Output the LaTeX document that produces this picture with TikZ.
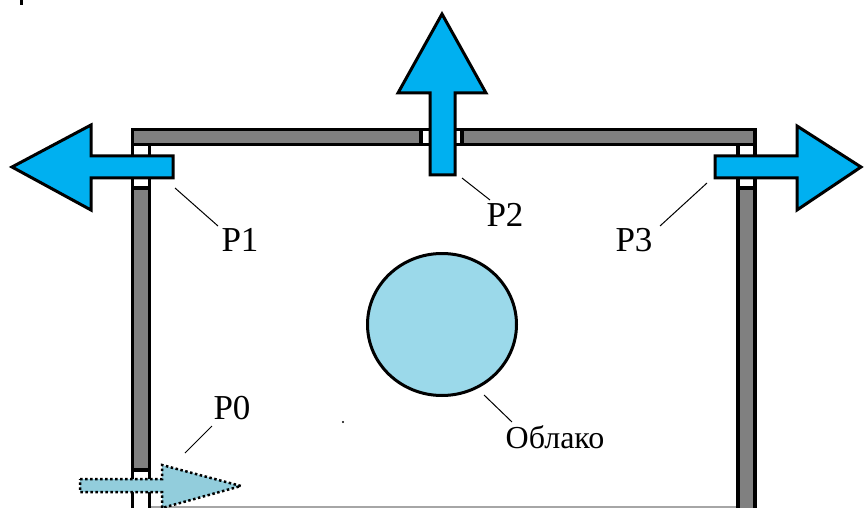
\documentclass[tikz,border=0pt]{standalone}
\usepackage{fontspec}
\setmainfont{Liberation Serif}
\usetikzlibrary{shapes.geometric}
\definecolor{arrowblue}{RGB}{0,176,240}
\definecolor{cloudblue}{RGB}{155,217,234}
\definecolor{pzeroblue}{RGB}{146,205,220}
\definecolor{wallgrey}{RGB}{128,128,128}
\begin{document}
\begin{tikzpicture}[x=1pt,y=-1pt]
\tikzset{
  wallseg/.style={draw=black, line width=3.5pt, fill=wallgrey},
  pane/.style={draw=black, line width=3.5pt, fill=white},
  blockarrow/.style={draw=black, line width=3pt, fill=arrowblue, line join=miter},
  dotarrow/.style={draw=black, line width=2.5pt, fill=pzeroblue, dash pattern=on 2.5pt off 2.5pt, line join=miter},
  lbl/.style={font=\fontsize{35}{40}\selectfont, inner sep=0pt},
  cloudlbl/.style={font=\fontsize{32}{36}\selectfont, inner sep=0pt},
  leader/.style={draw=black, line width=1pt}
}
\useasboundingbox (0,0) rectangle (865,508);
\clip (0,0) rectangle (865,508);
% floor line
\draw[black!35, line width=1.2pt] (150,507) -- (737,507);
% left wall
\draw[pane] (132.5,144.5) rectangle (149.5,188);
\draw[wallseg] (132.5,188) rectangle (149.5,470);
\draw[pane] (132.5,470) rectangle (149.5,515);
% right wall
\draw[pane] (738,144.5) rectangle (755,188);
\draw[wallseg] (738,188) rectangle (755,515);
% top wall
\draw[wallseg] (132.5,129.5) rectangle (421,144.5);
\draw[pane] (421,129.5) rectangle (462,144.5);
\draw[wallseg] (462,129.5) rectangle (755,144.5);
% block arrows
\draw[blockarrow] (12,167) -- (91,125) -- (91,156) -- (173,156) -- (173,178) -- (91,178) -- (91,210) -- cycle;
\draw[blockarrow] (442,14) -- (486,93) -- (455,93) -- (455,175) -- (430,175) -- (430,93) -- (398,93) -- cycle;
\draw[blockarrow] (861,167) -- (797,210) -- (797,178) -- (715,178) -- (715,156) -- (797,156) -- (797,126) -- cycle;
\draw[dotarrow] (80,479) -- (162,479) -- (162,465) -- (241,486) -- (162,508) -- (162,492) -- (80,492) -- cycle;
% cloud
\node (cloud) [ellipse, draw=black, line width=3pt, fill=cloudblue, minimum width=149pt, minimum height=142pt] at (442,324.5) {};
% labels
\node[lbl] (p1) at (240,240) {P1};
\node[lbl] (p2) at (505,215) {P2};
\node[lbl] (p3) at (634,240) {P3};
\node[lbl] (p0) at (232,408) {P0};
\node[cloudlbl] (obl) at (555,437) {Облако};
% leader lines
\coordinate (a1) at (175,188); \coordinate (b1) at (218,226);
\coordinate (a2) at (462,178); \coordinate (b2) at (490,200);
\coordinate (a3) at (707,183); \coordinate (b3) at (660,226);
\coordinate (a0) at (212,426); \coordinate (b0) at (185,453);
\coordinate (ac) at (484,395); \coordinate (bc) at (512,422);
\draw[leader] (a1) -- (b1);
\draw[leader] (a2) -- (b2);
\draw[leader] (a3) -- (b3);
\draw[leader] (a0) -- (b0);
\draw[leader] (ac) -- (bc);
% small marks
\fill (343,422) circle (1.2);
\fill (20,0) rectangle (23,5);
\end{tikzpicture}
\end{document}
